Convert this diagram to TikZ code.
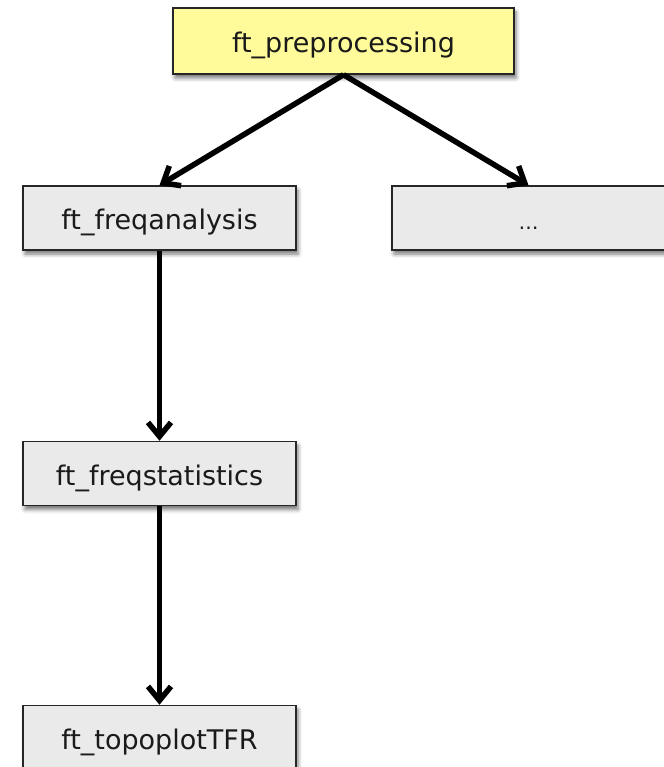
\documentclass[tikz,border=0pt]{standalone}
\usepackage{fontspec}
\setmainfont{DejaVu Sans}
\usetikzlibrary{arrows.meta,shadows.blur}
\definecolor{boxyellow}{HTML}{FFFA9A}
\definecolor{boxgray}{HTML}{EAEAEA}
\definecolor{textdark}{HTML}{1A1A1A}
\tikzset{
  basebox/.style={draw=black!85, line width=1.5pt, text=textdark,
    font=\fontsize{27}{32}\selectfont, inner sep=0pt,
    text height=23pt, text depth=0pt,
    blur shadow={shadow xshift=2pt, shadow yshift=-4pt, shadow blur radius=4pt, shadow opacity=55}},
  topbox/.style={basebox, fill=boxyellow, minimum width=341pt, minimum height=66pt},
  graybox/.style={basebox, fill=boxgray, minimum width=273pt, minimum height=64pt},
  flowarrow/.style={line width=5.5pt, -{Straight Barb[length=14pt,width=23pt]}},
}
\begin{document}
\begin{tikzpicture}[x=1pt,y=-1pt]
\useasboundingbox (0,0) rectangle (663,767);
\node[topbox] (pre) at (343.5,41) {ft\_preprocessing};
\node[graybox] (fa) at (159.5,218) {ft\_freqanalysis};
\node[graybox] (dots) at (528.5,218) {\fontsize{20}{24}\selectfont …};
\node[graybox] (fs) at (159.5,473.5) {ft\_freqstatistics};
\node[graybox] (tp) at (159.5,737.5) {ft\_topoplotTFR};
\draw[flowarrow] (pre.south) -- (fa.north);
\draw[flowarrow] (pre.south) -- (dots.north);
\draw[flowarrow] (fa.south) -- (fs.north);
\draw[flowarrow] (fs.south) -- (tp.north);
\end{tikzpicture}
\end{document}
